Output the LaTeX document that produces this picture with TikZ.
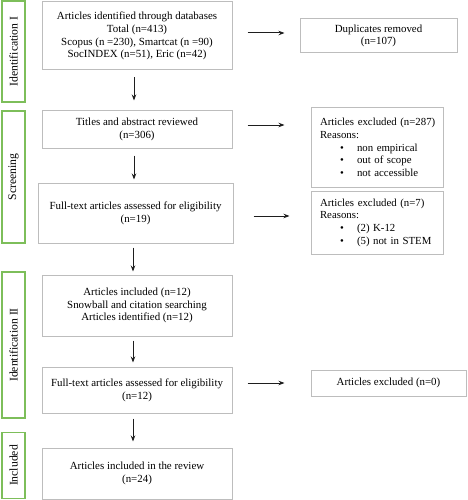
\documentclass[tikz,border=0pt]{standalone}
\usepackage{fontspec}
\setmainfont{Liberation Serif}
\usetikzlibrary{arrows.meta}
\definecolor{boxgray}{HTML}{BDBDBD}
\definecolor{phasegreen}{HTML}{7DBE5A}
\definecolor{arrowc}{HTML}{1E1E1E}
\begin{document}
\begin{tikzpicture}[x=1pt,y=-1pt,
  mainbox/.style={draw=boxgray,line width=1pt,inner sep=0pt,align=center,font=\fontsize{10.9}{12.7}\selectfont},
  listbox/.style={draw=boxgray,line width=1pt,inner xsep=9pt,inner ysep=0pt,align=left,font=\fontsize{10.8}{12.7}\selectfont},
  phasebox/.style={draw=phasegreen,line width=1.2pt,inner sep=0pt},
  phaselabel/.style={rotate=90,font=\fontsize{11.7}{12}\selectfont},
  arr/.style={draw=arrowc,line width=1pt,-{Stealth[length=6pt,width=4.5pt]}}
]
\useasboundingbox (0,0) rectangle (467,500);
% phase boxes
\node[phasebox,minimum width=23,minimum height=101] (p1) at (13.5,51.5) {};
\node[phaselabel] (p1t) at (p1.center) {Identification I};
\node[phasebox,minimum width=23,minimum height=132] (p2) at (13.5,177) {};
\node[phaselabel] (p2t) at (p2.center) {Screening};
\node[phasebox,minimum width=23,minimum height=146] (p3) at (13.5,345) {};
\node[phaselabel] (p3t) at (p3.center) {Identification II};
\node[phasebox,minimum width=23,minimum height=66] (p4) at (13.5,465.5) {};
\node[phaselabel] (p4t) at (p4.center) {Included};
% main boxes
\node[mainbox,minimum width=190,minimum height=68] (b1) at (137,36) {Articles identified through databases\\Total (n=413)\\Scopus (n =230), Smartcat (n =90)\\SocINDEX (n=51), Eric (n=42)};
\node[mainbox,minimum width=190,minimum height=37] (b2) at (137,129.5) {Titles and abstract reviewed\\(n=306)};
\node[mainbox,minimum width=195,minimum height=60] (b3) at (135.5,213) {Full-text articles assessed for eligibility\\(n=19)};
\node[mainbox,minimum width=190,minimum height=61] (b4) at (137,305.5) {Articles included (n=12)\\Snowball and citation searching\\Articles identified (n=12)};
\node[mainbox,minimum width=190,minimum height=46] (b5) at (137,390) {Full-text articles assessed for eligibility\\(n=12)};
\node[mainbox,minimum width=190,minimum height=51] (b6) at (137,473.5) {Articles included in the review\\(n=24)};
% right boxes
\node[mainbox,minimum width=157,minimum height=34] (dup) at (378.5,36) {Duplicates removed\\(n=107)};
\node[listbox,text width=114,minimum height=79] (e1) at (377,147.5) {\mbox{Articles excluded (n=287)}\\Reasons:\\\hspace*{20pt}\makebox[17pt][l]{\textbullet}non empirical\\\hspace*{20pt}\makebox[17pt][l]{\textbullet}out of scope\\\hspace*{20pt}\makebox[17pt][l]{\textbullet}not accessible};
\node[listbox,text width=114,minimum height=63] (e2) at (377,222.5) {\mbox{Articles excluded (n=7)}\\Reasons:\\\hspace*{20pt}\makebox[17pt][l]{\textbullet}(2) K-12\\\hspace*{20pt}\makebox[17pt][l]{\textbullet}\mbox{(5) not in STEM}};
\node[mainbox,minimum width=155,minimum height=26] (e3) at (388.5,383) {Articles excluded (n=0)};
% vertical arrows
\draw[arr,shorten <=7pt,shorten >=10pt] ([xshift=-3pt]b1.south) -- ([xshift=-3pt]b2.north);
\draw[arr,shorten <=7pt,shorten >=3pt] ([xshift=-3pt]b2.south) -- ([xshift=-1.5pt]b3.north);
\draw[arr,shorten <=4pt,shorten >=3pt] ([xshift=-2.5pt]b3.south) -- ([xshift=-4pt]b4.north);
\draw[arr,shorten <=4pt,shorten >=4pt] ([xshift=-4pt]b4.south) -- ([xshift=-4pt]b5.north);
\draw[arr,shorten <=5pt,shorten >=6pt] ([xshift=-4pt]b5.south) -- ([xshift=-4pt]b6.north);
% horizontal arrows
\draw[arr,shorten <=15pt,shorten >=15pt] ([yshift=3pt]b1.east) -- ([yshift=3pt]b1.east -| dup.west);
\draw[arr,shorten <=15pt,shorten >=26pt] ([yshift=4.5pt]b2.east) -- ([yshift=4.5pt]b2.east -| e1.west);
\draw[arr,shorten <=20pt,shorten >=21pt] ([yshift=-3pt]b3.east) -- ([yshift=-3pt]b3.east -| e2.west);
\draw[arr,shorten <=15pt,shorten >=26pt] (e3.west -| b5.east) -- (e3.west);
\end{tikzpicture}
\end{document}
